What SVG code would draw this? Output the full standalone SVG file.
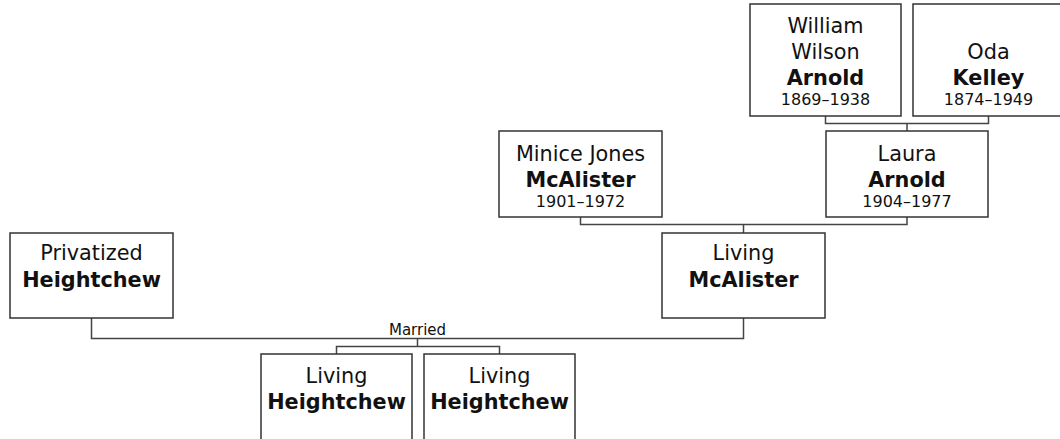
<svg xmlns="http://www.w3.org/2000/svg" width="1060" height="439" viewBox="0 0 1060 439">
<style>
.box{fill:#fff;stroke:#333;stroke-width:1.5}
.ln{fill:none;stroke:#444;stroke-width:1.5}
text{font-family:"DejaVu Sans","Liberation Sans",sans-serif;fill:#111;text-anchor:middle}
.n{font-size:20.8px}
.b{font-size:20.8px;font-weight:bold}
.d{font-size:16px}
.m{font-size:15px}
</style>
<rect width="1060" height="439" fill="#fff"/>
<g id="connectors">
<path class="ln" d="M825.5 116V123.5H988.5V116M907 123.5V131"/>
<path class="ln" d="M580.5 217V224.5H907V217M743.5 224.5V233"/>
<path class="ln" d="M91.5 318V338.5H743.5V318"/>
<path class="ln" d="M417.5 338.5V346.5M336.5 354V346.5H499.5V354"/>
<text class="m" x="417.5" y="335">Married</text>
</g>
<g id="william">
<rect class="box" x="750" y="4" width="151" height="112"/>
<text class="n" x="825.5" y="33">William</text>
<text class="n" x="825.5" y="59">Wilson</text>
<text class="b" x="825.5" y="85">Arnold</text>
<text class="d" x="825.5" y="104.5">1869–1938</text>
</g>
<g id="oda">
<rect class="box" x="913" y="4" width="151" height="112"/>
<text class="n" x="988.5" y="59">Oda</text>
<text class="b" x="988.5" y="85">Kelley</text>
<text class="d" x="988.5" y="104.5">1874–1949</text>
</g>
<g id="minice">
<rect class="box" x="499" y="131" width="163" height="86"/>
<text class="n" x="580.5" y="160.5">Minice Jones</text>
<text class="b" x="580.5" y="186.5">McAlister</text>
<text class="d" x="580.5" y="207">1901–1972</text>
</g>
<g id="laura">
<rect class="box" x="826" y="131" width="162" height="86"/>
<text class="n" x="907" y="160.5">Laura</text>
<text class="b" x="907" y="186.5">Arnold</text>
<text class="d" x="907" y="207">1904–1977</text>
</g>
<g id="living-mcalister">
<rect class="box" x="662" y="233" width="163" height="85"/>
<text class="n" x="743.5" y="260">Living</text>
<text class="b" x="743.5" y="286.5">McAlister</text>
</g>
<g id="privatized">
<rect class="box" x="10" y="233" width="163" height="85"/>
<text class="n" x="91.5" y="260">Privatized</text>
<text class="b" x="91.5" y="286.5">Heightchew</text>
</g>
<g id="child1">
<rect class="box" x="261" y="354" width="151" height="100"/>
<text class="n" x="336.5" y="383">Living</text>
<text class="b" x="336.5" y="408.5">Heightchew</text>
</g>
<g id="child2">
<rect class="box" x="424" y="354" width="151" height="100"/>
<text class="n" x="499.5" y="383">Living</text>
<text class="b" x="499.5" y="408.5">Heightchew</text>
</g>
</svg>
